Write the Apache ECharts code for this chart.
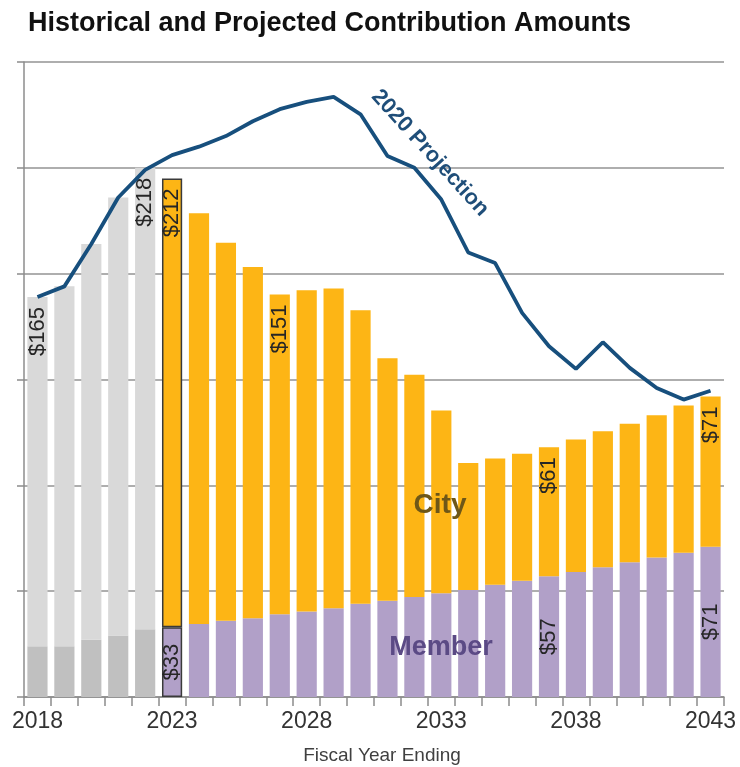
<!DOCTYPE html>
<html>
<head>
<meta charset="utf-8">
<script src="https://cdn.jsdelivr.net/npm/echarts@6/dist/echarts.min.js"></script>
<style>
  html, body { margin: 0; padding: 0; background: #fff; }
  #main { width: 740px; height: 767px; }
</style>
</head>
<body>
<div id="main"></div>
<script>
// fiscal years, historical 2018-2022, projected 2023-2043
var years = ['2018', '2019', '2020', '2021', '2022', '2023', '2024', '2025', '2026',
  '2027', '2028', '2029', '2030', '2031', '2032', '2033', '2034', '2035', '2036',
  '2037', '2038', '2039', '2040', '2041', '2042', '2043'];

// $ millions
var memberValues = [24, 24, 27, 29, 32, 33, 34.5, 36, 37.2, 39.1, 40.4, 41.9, 44, 45.5,
  47.2, 49, 50.6, 53, 54.9, 57, 59.1, 61.3, 63.7, 65.9, 68.1, 71];
var cityValues = [165, 170, 187, 207, 218, 212, 194, 178.6, 166, 151, 151.8, 151.1, 138.7,
  114.5, 105.1, 86.3, 59.9, 59.7, 60, 61, 62.5, 64.2, 65.4, 67.2, 69.6, 71];
var projection2020 = [189, 194, 214, 236, 249, 256, 260, 265, 272, 277.7, 281.2, 283.5,
  275.3, 255.6, 250, 235, 210, 205, 181.5, 165.7, 155, 167.6, 155.5, 146, 140.5, 144.7];

var cityLabelYears = ['2018', '2022', '2023', '2027', '2037', '2043'];
var memberLabelYears = ['2023', '2037', '2043'];

var font = 'Liberation Sans, Arial, sans-serif';

function buildBars(values, histColor, projColor, labelYears) {
  return values.map(function (v, i) {
    var yr = years[i];
    var item = {
      value: v,
      itemStyle: { color: +yr < 2023 ? histColor : projColor }
    };
    if (yr === '2023') {
      item.itemStyle.borderColor = '#3a3a3a';
      item.itemStyle.borderWidth = 1.5;
    }
    if (labelYears.indexOf(yr) >= 0) item.label = { show: true };
    return item;
  });
}

var chart = echarts.init(document.getElementById('main'));

var option = {
  animation: false,
  title: {
    text: 'Historical and Projected Contribution Amounts',
    left: 23,
    top: 5,
    textStyle: { fontFamily: font, fontSize: 27, fontWeight: 'bold', color: '#111' }
  },
  grid: { left: 24, right: 16, top: 62, bottom: 70, outerBoundsMode: 'none' },
  xAxis: {
    type: 'category',
    data: years,
    name: 'Fiscal Year Ending',
    nameLocation: 'middle',
    nameGap: 49,
    nameTextStyle: { fontFamily: font, fontSize: 19, color: '#404040', padding: [0, 0, 0, 16] },
    axisLine: { lineStyle: { color: '#8c8c8c', width: 1.5 } },
    axisTick: { show: true, interval: 0, length: 9, lineStyle: { color: '#8c8c8c', width: 1.5 } },
    axisLabel: { interval: 4, fontFamily: font, fontSize: 23, color: '#333', margin: 13 }
  },
  yAxis: {
    type: 'value',
    min: 0,
    max: 300,
    interval: 50,
    axisLabel: { show: false },
    axisLine: { show: true, lineStyle: { color: '#8c8c8c', width: 1.5 } },
    axisTick: { show: true, length: 7, lineStyle: { color: '#8c8c8c', width: 1.5 } },
    splitLine: { lineStyle: { color: '#939393', width: 1.5 } }
  },
  series: [
    {
      name: 'Member',
      type: 'bar',
      stack: 'total',
      barCategoryGap: '25%',
      data: buildBars(memberValues, '#c0c0c0', '#b1a0c8', memberLabelYears),
      label: {
        show: false,
        position: 'inside',
        rotate: 90,
        fontFamily: font,
        fontSize: 22,
        color: '#262626',
        formatter: function (p) { return '$' + Math.round(p.value); }
      }
    },
    {
      name: 'City',
      type: 'bar',
      stack: 'total',
      barCategoryGap: '25%',
      data: buildBars(cityValues, '#d9d9d9', '#fdb515', cityLabelYears),
      label: {
        show: false,
        position: 'insideTop',
        distance: 10,
        rotate: 90,
        align: 'right',
        verticalAlign: 'middle',
        fontFamily: font,
        fontSize: 22,
        color: '#262626',
        formatter: function (p) { return '$' + Math.round(p.value); }
      }
    },
    {
      name: '2020 Projection',
      type: 'line',
      data: projection2020,
      symbol: 'none',
      z: 5,
      lineStyle: { color: '#174f7d', width: 3.8 }
    }
  ],
  graphic: [
    {
      type: 'text',
      x: 430, y: 153,
      z: 100,
      rotation: -47.6 * Math.PI / 180,
      style: {
        text: '2020 Projection',
        font: 'bold 22px ' + font,
        fill: '#1f4e79',
        align: 'center',
        verticalAlign: 'middle'
      }
    },
    {
      type: 'text',
      x: 440, y: 505,
      z: 100,
      style: {
        text: 'City',
        font: 'bold 28px ' + font,
        fill: '#6e5718',
        align: 'center',
        verticalAlign: 'middle'
      }
    },
    {
      type: 'text',
      x: 441, y: 648,
      z: 100,
      style: {
        text: 'Member',
        font: 'bold 27px ' + font,
        fill: '#5b4a85',
        align: 'center',
        verticalAlign: 'middle'
      }
    }
  ]
};

chart.setOption(option);
</script>
</body>
</html>
